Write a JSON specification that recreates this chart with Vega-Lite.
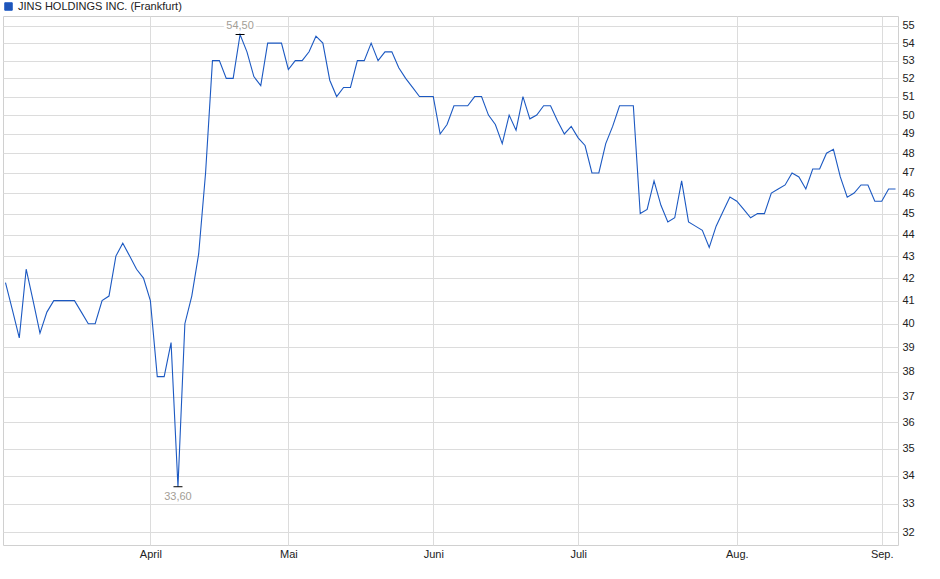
{
  "$schema": "https://vega.github.io/schema/vega-lite/v6.json",
  "width": 895,
  "height": 529,
  "autosize": "none",
  "padding": {"left": 3, "top": 16, "right": 42, "bottom": 34},
  "background": "white",
  "datasets": {
    "kurs": [
      {"date": "2025-03-03", "close": 41.8},
      {"date": "2025-03-04", "close": 40.6},
      {"date": "2025-03-05", "close": 39.4},
      {"date": "2025-03-06", "close": 42.4},
      {"date": "2025-03-07", "close": 41.0},
      {"date": "2025-03-10", "close": 39.6},
      {"date": "2025-03-11", "close": 40.5},
      {"date": "2025-03-12", "close": 41.0},
      {"date": "2025-03-13", "close": 41.0},
      {"date": "2025-03-14", "close": 41.0},
      {"date": "2025-03-17", "close": 41.0},
      {"date": "2025-03-18", "close": 40.5},
      {"date": "2025-03-19", "close": 40.0},
      {"date": "2025-03-20", "close": 40.0},
      {"date": "2025-03-21", "close": 41.0},
      {"date": "2025-03-24", "close": 41.2},
      {"date": "2025-03-25", "close": 43.0},
      {"date": "2025-03-26", "close": 43.6},
      {"date": "2025-03-27", "close": 43.0},
      {"date": "2025-03-28", "close": 42.4},
      {"date": "2025-03-31", "close": 42.0},
      {"date": "2025-04-01", "close": 41.0},
      {"date": "2025-04-02", "close": 37.8},
      {"date": "2025-04-03", "close": 37.8},
      {"date": "2025-04-04", "close": 39.2},
      {"date": "2025-04-07", "close": 33.6},
      {"date": "2025-04-08", "close": 40.0},
      {"date": "2025-04-09", "close": 41.2},
      {"date": "2025-04-10", "close": 43.1},
      {"date": "2025-04-11", "close": 47.0},
      {"date": "2025-04-14", "close": 53.0},
      {"date": "2025-04-15", "close": 53.0},
      {"date": "2025-04-16", "close": 52.0},
      {"date": "2025-04-17", "close": 52.0},
      {"date": "2025-04-22", "close": 54.5},
      {"date": "2025-04-23", "close": 53.5},
      {"date": "2025-04-24", "close": 52.1},
      {"date": "2025-04-25", "close": 51.6},
      {"date": "2025-04-28", "close": 54.0},
      {"date": "2025-04-29", "close": 54.0},
      {"date": "2025-04-30", "close": 54.0},
      {"date": "2025-05-02", "close": 52.5},
      {"date": "2025-05-05", "close": 53.0},
      {"date": "2025-05-06", "close": 53.0},
      {"date": "2025-05-07", "close": 53.5},
      {"date": "2025-05-08", "close": 54.4},
      {"date": "2025-05-09", "close": 54.0},
      {"date": "2025-05-12", "close": 51.9},
      {"date": "2025-05-13", "close": 51.0},
      {"date": "2025-05-14", "close": 51.5},
      {"date": "2025-05-15", "close": 51.5},
      {"date": "2025-05-16", "close": 53.0},
      {"date": "2025-05-19", "close": 53.0},
      {"date": "2025-05-20", "close": 54.0},
      {"date": "2025-05-21", "close": 53.0},
      {"date": "2025-05-22", "close": 53.5},
      {"date": "2025-05-23", "close": 53.5},
      {"date": "2025-05-26", "close": 52.6},
      {"date": "2025-05-27", "close": 52.0},
      {"date": "2025-05-28", "close": 51.5},
      {"date": "2025-05-29", "close": 51.0},
      {"date": "2025-05-30", "close": 51.0},
      {"date": "2025-06-02", "close": 51.0},
      {"date": "2025-06-03", "close": 49.0},
      {"date": "2025-06-04", "close": 49.5},
      {"date": "2025-06-05", "close": 50.5},
      {"date": "2025-06-06", "close": 50.5},
      {"date": "2025-06-09", "close": 50.5},
      {"date": "2025-06-10", "close": 51.0},
      {"date": "2025-06-11", "close": 51.0},
      {"date": "2025-06-12", "close": 50.0},
      {"date": "2025-06-13", "close": 49.5},
      {"date": "2025-06-16", "close": 48.5},
      {"date": "2025-06-17", "close": 50.0},
      {"date": "2025-06-18", "close": 49.2},
      {"date": "2025-06-19", "close": 51.0},
      {"date": "2025-06-20", "close": 49.8},
      {"date": "2025-06-23", "close": 50.0},
      {"date": "2025-06-24", "close": 50.5},
      {"date": "2025-06-25", "close": 50.5},
      {"date": "2025-06-26", "close": 49.7},
      {"date": "2025-06-27", "close": 49.0},
      {"date": "2025-06-30", "close": 49.4},
      {"date": "2025-07-01", "close": 48.8},
      {"date": "2025-07-02", "close": 48.4},
      {"date": "2025-07-03", "close": 47.0},
      {"date": "2025-07-04", "close": 47.0},
      {"date": "2025-07-07", "close": 48.5},
      {"date": "2025-07-08", "close": 49.4},
      {"date": "2025-07-09", "close": 50.5},
      {"date": "2025-07-10", "close": 50.5},
      {"date": "2025-07-11", "close": 50.5},
      {"date": "2025-07-14", "close": 45.0},
      {"date": "2025-07-15", "close": 45.2},
      {"date": "2025-07-16", "close": 46.6},
      {"date": "2025-07-17", "close": 45.4},
      {"date": "2025-07-18", "close": 44.6},
      {"date": "2025-07-21", "close": 44.8},
      {"date": "2025-07-22", "close": 46.6},
      {"date": "2025-07-23", "close": 44.6},
      {"date": "2025-07-24", "close": 44.4},
      {"date": "2025-07-25", "close": 44.2},
      {"date": "2025-07-28", "close": 43.4},
      {"date": "2025-07-29", "close": 44.4},
      {"date": "2025-07-30", "close": 45.1},
      {"date": "2025-07-31", "close": 45.8},
      {"date": "2025-08-01", "close": 45.6},
      {"date": "2025-08-04", "close": 45.2},
      {"date": "2025-08-05", "close": 44.8},
      {"date": "2025-08-06", "close": 45.0},
      {"date": "2025-08-07", "close": 45.0},
      {"date": "2025-08-08", "close": 46.0},
      {"date": "2025-08-11", "close": 46.2},
      {"date": "2025-08-12", "close": 46.4},
      {"date": "2025-08-13", "close": 47.0},
      {"date": "2025-08-14", "close": 46.8},
      {"date": "2025-08-15", "close": 46.2},
      {"date": "2025-08-18", "close": 47.2},
      {"date": "2025-08-19", "close": 47.2},
      {"date": "2025-08-20", "close": 48.0},
      {"date": "2025-08-21", "close": 48.2},
      {"date": "2025-08-22", "close": 46.8},
      {"date": "2025-08-25", "close": 45.8},
      {"date": "2025-08-26", "close": 46.0},
      {"date": "2025-08-27", "close": 46.4},
      {"date": "2025-08-28", "close": 46.4},
      {"date": "2025-08-29", "close": 45.6},
      {"date": "2025-09-01", "close": 45.6},
      {"date": "2025-09-02", "close": 46.2},
      {"date": "2025-09-03", "close": 46.2}
    ],
    "extreme": [
      {"date": "2025-04-22", "close": 54.5, "label": "54,50", "kind": "max"},
      {"date": "2025-04-07", "close": 33.6, "label": "33,60", "kind": "min"}
    ]
  },
  "encoding": {
    "x": {
      "field": "date",
      "type": "ordinal",
      "scale": {"type": "point", "padding": 0.36},
      "axis": {
        "title": null,
        "values": ["2025-04-01", "2025-05-02", "2025-06-02", "2025-07-01", "2025-08-01", "2025-09-01"],
        "labelExpr": "['','','','','April','Mai','Juni','Juli','Aug.','Sep.'][toNumber(slice(datum.value, 5, 7))]",
        "labelAngle": 0,
        "labelPadding": 3,
        "labelOverlap": false,
        "grid": true
      }
    },
    "y": {
      "field": "close",
      "type": "quantitative",
      "scale": {"type": "log", "domain": [31.57, 55.59], "nice": false},
      "axis": {
        "title": null,
        "orient": "right",
        "values": [32, 33, 34, 35, 36, 37, 38, 39, 40, 41, 42, 43, 44, 45, 46, 47, 48, 49, 50, 51, 52, 53, 54, 55],
        "format": "d",
        "labelPadding": 4,
        "grid": true
      }
    }
  },
  "layer": [
    {
      "data": {"name": "kurs"},
      "mark": {"type": "line", "strokeWidth": 1.1, "interpolate": "linear"},
      "encoding": {
        "color": {
          "datum": "JINS HOLDINGS INC. (Frankfurt)",
          "scale": {"range": ["#1c59c2"]},
          "legend": {
            "title": null,
            "orient": "none",
            "legendX": 0,
            "legendY": -15,
            "padding": 0,
            "symbolType": "square",
            "symbolSize": 56,
            "labelFont": "Liberation Sans",
            "labelFontSize": 11,
            "labelColor": "#222222",
            "labelOffset": 4,
            "labelLimit": 400,
            "encode": {
              "symbols": {
                "update": {
                  "fill": {"value": "#1f55b8"},
                  "stroke": {"value": "#0e2a66"},
                  "strokeWidth": {"value": 1},
                  "opacity": {"value": 1}
                }
              }
            }
          }
        }
      }
    },
    {
      "data": {"name": "extreme"},
      "mark": {"type": "tick", "orient": "horizontal", "color": "black", "size": 9, "thickness": 1, "opacity": 1}
    },
    {
      "data": {"name": "extreme"},
      "transform": [{"filter": "datum.kind == 'max'"}],
      "mark": {"type": "text", "font": "Liberation Sans", "fontSize": 11, "baseline": "middle", "dy": -8.5, "fill": "white", "stroke": "white", "strokeWidth": 5},
      "encoding": {"text": {"field": "label"}}
    },
    {
      "data": {"name": "extreme"},
      "transform": [{"filter": "datum.kind == 'max'"}],
      "mark": {"type": "text", "font": "Liberation Sans", "fontSize": 11, "baseline": "middle", "dy": -8.5, "color": "#a39e96"},
      "encoding": {"text": {"field": "label"}}
    },
    {
      "data": {"name": "extreme"},
      "transform": [{"filter": "datum.kind == 'min'"}],
      "mark": {"type": "text", "font": "Liberation Sans", "fontSize": 11, "baseline": "middle", "dy": 10, "color": "#a39e96"},
      "encoding": {"text": {"field": "label"}}
    }
  ],
  "config": {
    "view": {"stroke": "#d0d0d0"},
    "axis": {
      "gridColor": "#dcdcdc",
      "gridWidth": 1,
      "gridOpacity": 1,
      "labelFont": "Liberation Sans",
      "labelFontSize": 11,
      "labelColor": "#222222",
      "ticks": false,
      "domain": false
    }
  }
}
